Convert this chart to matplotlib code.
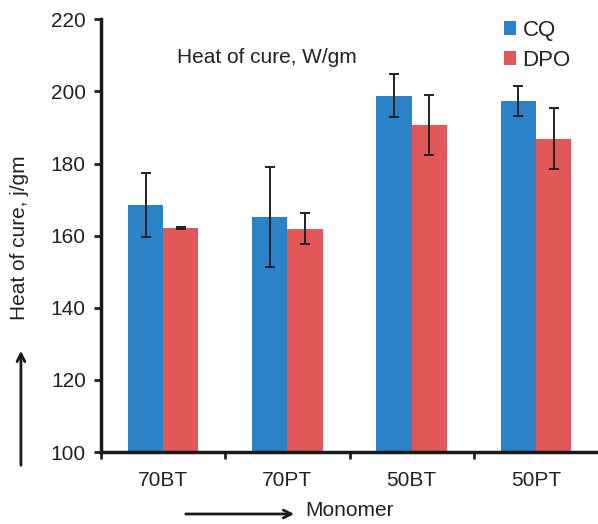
import matplotlib
matplotlib.use("Agg")
import matplotlib.pyplot as plt
import numpy as np

plt.rcParams['font.family'] = ['Liberation Sans', 'DejaVu Sans']

categories = ["70BT", "70PT", "50BT", "50PT"]
series_names = ["CQ", "DPO"]
cq_values = [168.5, 165.2, 198.8, 197.4]
cq_errors = [8.8, 13.8, 6.0, 4.2]
dpo_values = [162.1, 161.9, 190.7, 186.9]
dpo_errors = [0.3, 4.3, 8.3, 8.5]
yticks = [100, 120, 140, 160, 180, 200, 220]

blue = "#2b82c6"
red = "#e25858"
fs = 15

fig = plt.figure(figsize=(5.98, 5.24), dpi=100)
ax = fig.add_axes([0.169, 0.1374, 0.831, 0.8256])

x = np.arange(len(categories)) + 0.5
w = 0.284
ax.bar(x - w/2, cq_values, w, color=blue, label=series_names[0], zorder=2)
ax.bar(x + w/2, dpo_values, w, color=red, label=series_names[1], zorder=2)
ax.errorbar(x - w/2, cq_values, yerr=cq_errors, fmt='none', ecolor='#222222',
            elinewidth=1.4, capsize=3.5, capthick=1.4, zorder=3)
ax.errorbar(x + w/2, dpo_values, yerr=dpo_errors, fmt='none', ecolor='#222222',
            elinewidth=1.4, capsize=3.5, capthick=1.4, zorder=3)

ax.set_xlim(0, len(categories))
ax.set_ylim(100, 220)
ax.set_yticks(yticks)
ax.set_xticks(np.arange(len(categories)))
ax.set_xticklabels([])
ax.set_xticks(x, minor=True)
ax.set_xticklabels(categories, minor=True)
ax.tick_params(axis='x', which='minor', length=0, pad=14, labelsize=fs, colors='#222222')
ax.tick_params(axis='x', which='major', length=5, width=2, direction='out', colors='#222222')
ax.tick_params(axis='y', length=5, width=2, direction='out', labelsize=fs, colors='#222222', pad=6)
for s in ['top', 'right']:
    ax.spines[s].set_visible(False)
for s in ['left', 'bottom']:
    ax.spines[s].set_linewidth(2.5)
    ax.spines[s].set_color('#1a1a1a')

ax.text(0.152, 0.912, "Heat of cure, W/gm", transform=ax.transAxes, fontsize=fs,
        color='#222222', va='center', ha='left')

leg = ax.legend(loc='upper left', bbox_to_anchor=(0.81, 0.998), frameon=False,
                fontsize=16, handlelength=0.55, handleheight=0.6, handletextpad=0.3,
                labelspacing=0.4, borderaxespad=0, borderpad=0)
for t in leg.get_texts():
    t.set_color('#222222')

fig.text(0.033, 1 - 238/524, "Heat of cure, j/gm", rotation=90, fontsize=fs,
         color='#222222', ha='center', va='center')
fig.add_artist(matplotlib.patches.FancyArrowPatch((0.035, 1 - 468/524), (0.035, 1 - 348/524),
               transform=fig.transFigure, arrowstyle='->', mutation_scale=14,
               linewidth=2, color='#1a1a1a'))
fig.text(305/598, 1 - 511/524, "Monomer", fontsize=fs, color='#222222',
         ha='left', va='center')
fig.add_artist(matplotlib.patches.FancyArrowPatch((183/598, 1 - 514/524), (297/598, 1 - 514/524),
               transform=fig.transFigure, arrowstyle='->', mutation_scale=14,
               linewidth=2, color='#1a1a1a'))

fig.savefig("out.png", dpi=100)
